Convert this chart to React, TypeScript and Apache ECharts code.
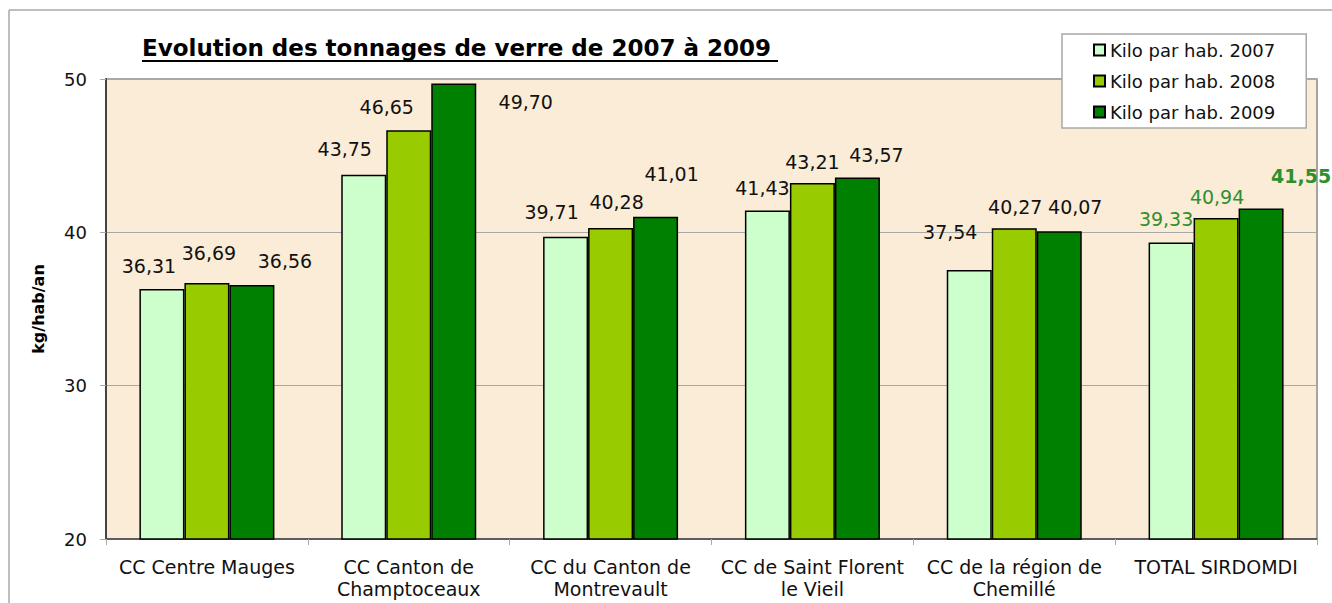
import React, { useEffect, useRef } from "react";
import * as echarts from "echarts";

const categories = [
  "CC Centre Mauges",
  "CC Canton de\nChamptoceaux",
  "CC du Canton de\nMontrevault",
  "CC de Saint Florent\nle Vieil",
  "CC de la région de\nChemillé",
  "TOTAL SIRDOMDI",
];
const seriesNames = ["Kilo par hab. 2007", "Kilo par hab. 2008", "Kilo par hab. 2009"];
const values2007 = [36.31, 43.75, 39.71, 41.43, 37.54, 39.33];
const values2008 = [36.69, 46.65, 40.28, 43.21, 40.27, 40.94];
const values2009 = [36.56, 49.7, 41.01, 43.57, 40.07, 41.55];
const yTicks = [20, 30, 40, 50];

// label styling offsets (pixel nudges, to mimic the original label placement)
const offsets2007 = [[-13, -8], [-19, -11], [-14, -10], [-5, -8], [-19, -24], [-5, -9]];
const offsets2008 = [[2, -16], [-22, -9], [6, -12], [0, -7], [1, -7], [1, -6]];
const offsets2009 = [[33, -10], [72, 33], [16, -28], [19, -8], [16, -10], [40, -18]];

const colors = ["#ccffcc", "#99cc00", "#008000"];
const FONT = "DejaVu Sans";

function fmt(v: number) {
  return v.toFixed(2).replace(".", ",");
}

function buildData(vals: number[], offs: number[][]) {
  return vals.map((v, i) => {
    const isTotal = i === vals.length - 1;
    return {
      value: v,
      label: {
        offset: offs[i],
        color: isTotal ? "#2f8f2f" : "#111",
        fontWeight: isTotal && vals === values2009 ? "bold" : "normal",
      },
    };
  });
}

export default function App() {
  const ref = useRef<HTMLDivElement>(null);
  useEffect(() => {
    if (!ref.current) return;
    const chart = echarts.init(ref.current, null, { renderer: "svg" });
    const allVals = [values2007, values2008, values2009];
    const allOffs = [offsets2007, offsets2008, offsets2009];
    chart.setOption({
      animation: false,
      backgroundColor: "#ffffff",
      textStyle: { fontFamily: FONT },
      graphic: [
        {
          type: "line",
          shape: { x1: 9, y1: 10, x2: 1332, y2: 10 },
          style: { stroke: "#a8a8a8", lineWidth: 1.5 },
        },
        {
          type: "line",
          shape: { x1: 9, y1: 10, x2: 9, y2: 603 },
          style: { stroke: "#a8a8a8", lineWidth: 1.5 },
        },
        {
          type: "text",
          style: {
            x: 142,
            y: 48,
            text: "Evolution des tonnages de verre de 2007 à 2009",
            font: `bold 23px "${FONT}"`,
            fill: "#000",
            verticalAlign: "middle",
          },
        },
        {
          type: "line",
          shape: { x1: 142, y1: 61, x2: 778, y2: 61 },
          style: { stroke: "#000", lineWidth: 2 },
        },
      ],
      legend: {
        orient: "vertical",
        left: 1062,
        top: 34,
        padding: [6, 31, 6, 31],
        itemGap: 11,
        itemWidth: 11,
        itemHeight: 11,
        icon: "rect",
        backgroundColor: "#ffffff",
        borderColor: "#a8a8a8",
        borderWidth: 1.5,
        textStyle: { fontSize: 18, fontFamily: FONT, color: "#111", lineHeight: 20 },
        data: seriesNames,
      },
      grid: {
        left: 106,
        right: 15,
        top: 79,
        bottom: 64,
        show: true,
        backgroundColor: "#faecd6",
        borderColor: "#8a8a8a",
        borderWidth: 1.5,
      },
      xAxis: {
        type: "category",
        data: categories,
        axisLine: { show: true, lineStyle: { color: "#444", width: 1.5 } },
        axisTick: { show: true, interval: 0, length: 6, lineStyle: { color: "#aaa" } },
        axisLabel: {
          interval: 0,
          fontSize: 19,
          fontFamily: FONT,
          color: "#111",
          margin: 17,
          lineHeight: 22,
        },
      },
      yAxis: {
        type: "value",
        min: yTicks[0],
        max: yTicks[yTicks.length - 1],
        interval: 10,
        name: "kg/hab/an",
        nameLocation: "middle",
        nameRotate: 90,
        nameGap: 60,
        nameTextStyle: { fontSize: 16, fontWeight: "bold", fontFamily: FONT, color: "#000" },
        axisLine: { show: true, lineStyle: { color: "#444", width: 2 } },
        axisTick: { show: true, length: 6, lineStyle: { color: "#aaa" } },
        axisLabel: { fontSize: 18, fontFamily: FONT, color: "#111", margin: 19 },
        splitLine: { show: true, lineStyle: { color: "#a8a8a8", width: 1 } },
      },
      series: seriesNames.map((name, s) => ({
        name,
        type: "bar",
        barWidth: 45,
        barGap: "0%",
        data: buildData(allVals[s], allOffs[s]),
        itemStyle: { color: colors[s], borderColor: "#000", borderWidth: 1.5 },
        label: {
          show: true,
          position: "top",
          fontSize: 19,
          fontFamily: FONT,
          formatter: (p: any) => fmt(p.value),
        },
      })),
    });
    return () => chart.dispose();
  }, []);
  return (
    <div
      ref={ref}
      style={{ position: "absolute", left: 0, top: 0, width: 1332, height: 603 }}
    />
  );
}
